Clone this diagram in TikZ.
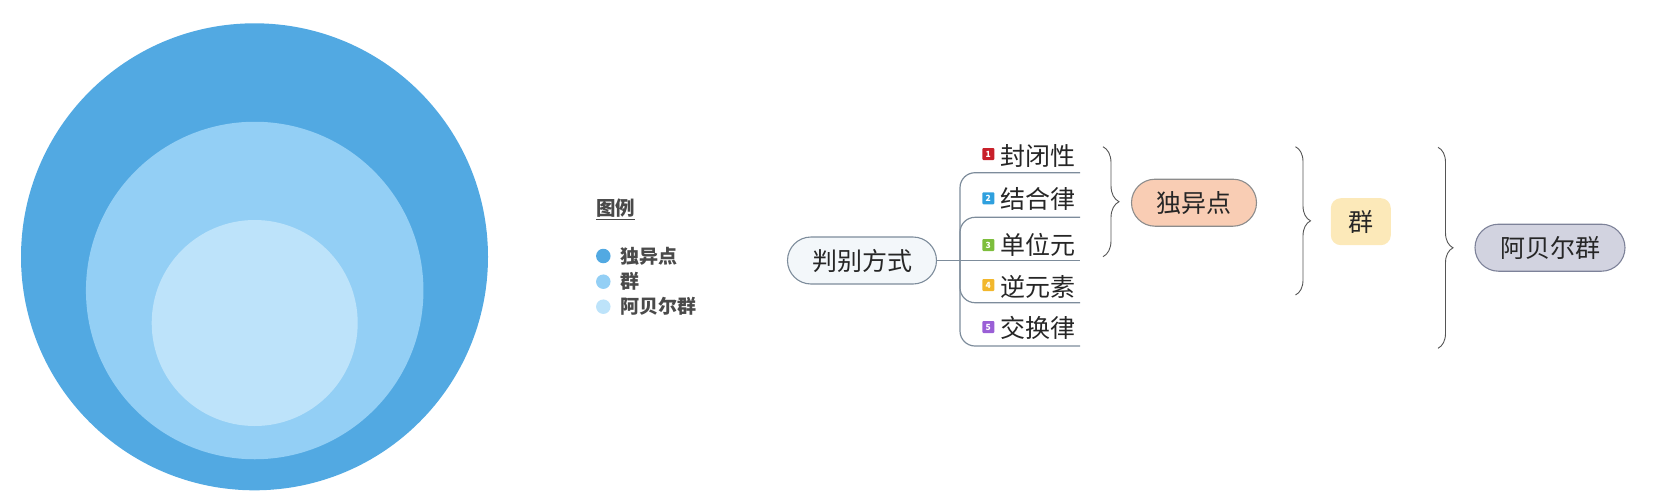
\documentclass[tikz,border=0pt]{standalone}
\usepackage{fontspec}
\setmainfont{Noto Sans CJK SC}
\usetikzlibrary{decorations.pathreplacing}
\definecolor{cOuter}{HTML}{52A9E2}
\definecolor{cMid}{HTML}{93CFF5}
\definecolor{cIn}{HTML}{BDE3FA}
\definecolor{legtxt}{HTML}{4A4A4A}
\definecolor{linec}{HTML}{7D8C9B}
\definecolor{rootfill}{HTML}{F3F7FA}
\definecolor{ic1}{HTML}{C8202A}
\definecolor{ic2}{HTML}{2FA0DE}
\definecolor{ic3}{HTML}{7DBE3C}
\definecolor{ic4}{HTML}{F2B72C}
\definecolor{ic5}{HTML}{9A5FD6}
\definecolor{peach}{HTML}{F9CDB4}
\definecolor{peachbd}{HTML}{8C8C8C}
\definecolor{yell}{HTML}{FCE9B9}
\definecolor{lav}{HTML}{D2D3E0}
\definecolor{lavbd}{HTML}{7D8299}
\definecolor{bracec}{HTML}{555555}
\begin{document}
\begin{tikzpicture}[x=1pt,y=-1pt,
  disc/.style={circle,inner sep=0pt,draw=none},
  legdot/.style={circle,inner sep=0pt,minimum size=14.5pt},
  legtext/.style={anchor=west,inner sep=0pt,text=legtxt,font=\fontsize{19}{21}\selectfont\bfseries},
  pill/.style={rounded corners=23.5pt,minimum height=47pt,inner sep=0pt,line width=1.1pt,
    font=\fontsize{25}{28}\selectfont,text=black!85},
  branch/.style={draw=linec,line width=1.2pt,rounded corners=15pt},
  icon/.style={inner sep=0pt,minimum size=12pt,rounded corners=1pt,text=white,font=\fontsize{8.5}{8.5}\selectfont\bfseries},
  btext/.style={anchor=west,inner sep=0pt,font=\fontsize{25}{28}\selectfont,text=black!85},
  bracestyle/.style={draw=bracec,line width=0.9pt,decorate,decoration={brace,amplitude=15pt}}
]
\useasboundingbox (0,0) rectangle (1655,501);
% nested circles
\node[disc,fill=cOuter,minimum size=467pt] (outer) at (254.5,256.8) {};
\node[disc,fill=cMid,minimum size=337.5pt] (mid) at (254.7,290.5) {};
\node[disc,fill=cIn,minimum size=206pt] (inner) at (254.7,323) {};
% legend
\node[legtext,font=\fontsize{19.5}{21}\selectfont\bfseries] (legtitle) at (596,208.4) {图例};
\draw[legtxt,line width=1pt] ([yshift=-1.5pt]legtitle.south west) -- ([yshift=-1.5pt]legtitle.south east);
\node[legdot,fill=cOuter] (d1) at (603.3,256) {};
\node[legdot,fill=cMid] (d2) at (603.3,281.7) {};
\node[legdot,fill=cIn] (d3) at (603.3,306.7) {};
\node[legtext] (l1) at (620.5,256) {独异点};
\node[legtext] (l2) at (620.5,281.7) {群};
\node[legtext] (l3) at (620.5,306.7) {阿贝尔群};
% mind map root
\node[pill,fill=rootfill,draw=linec,minimum width=149pt] (root) at (862,260.5) {判别方式};
\coordinate (j) at (960,260.5);
\coordinate (e1) at (1080,172.7);
\coordinate (e2) at (1080,217.3);
\coordinate (e3) at (1080,260.5);
\coordinate (e4) at (1080,302.7);
\coordinate (e5) at (1080,346);
\draw[branch] (root.east) -- (e3);
\draw[branch] (j) |- (e1);
\draw[branch] (j) |- (e2);
\draw[branch] (j) |- (e4);
\draw[branch] (j) |- (e5);
% branch labels
\node[icon,fill=ic1] (i1) at (988.3,154) {1};
\node[icon,fill=ic2] (i2) at (988.3,198.3) {2};
\node[icon,fill=ic3] (i3) at (988.3,245) {3};
\node[icon,fill=ic4] (i4) at (988.3,285) {4};
\node[icon,fill=ic5] (i5) at (988.3,327) {5};
\node[btext] (t1) at (1000.5,156) {封闭性};
\node[btext] (t2) at (1000.5,198.5) {结合律};
\node[btext] (t3) at (1000.5,245) {单位元};
\node[btext] (t4) at (1000.5,286.5) {逆元素};
\node[btext] (t5) at (1000.5,328) {交换律};
% braces
\coordinate (b1t) at (1103,146.7);
\coordinate (b1b) at (1103,256.7);
\coordinate (b2t) at (1295.5,146.7);
\coordinate (b2b) at (1295.5,295);
\coordinate (b3t) at (1438,147.3);
\coordinate (b3b) at (1438,348.3);
\draw[bracestyle,decoration={amplitude=16pt}] (b1t) -- (b1b);
\draw[bracestyle] (b2t) -- (b2b);
\draw[bracestyle] (b3t) -- (b3b);
% result nodes
\node[pill,fill=peach,draw=peachbd,minimum width=125pt] (mono) at (1194,202.7) {独异点};
\node[pill,fill=yell,draw=none,rounded corners=10pt,minimum width=60pt] (grp) at (1360.8,221.7) {群};
\node[pill,fill=lav,draw=lavbd,minimum width=150pt] (abel) at (1550,247.7) {阿贝尔群};
\end{tikzpicture}
\end{document}
